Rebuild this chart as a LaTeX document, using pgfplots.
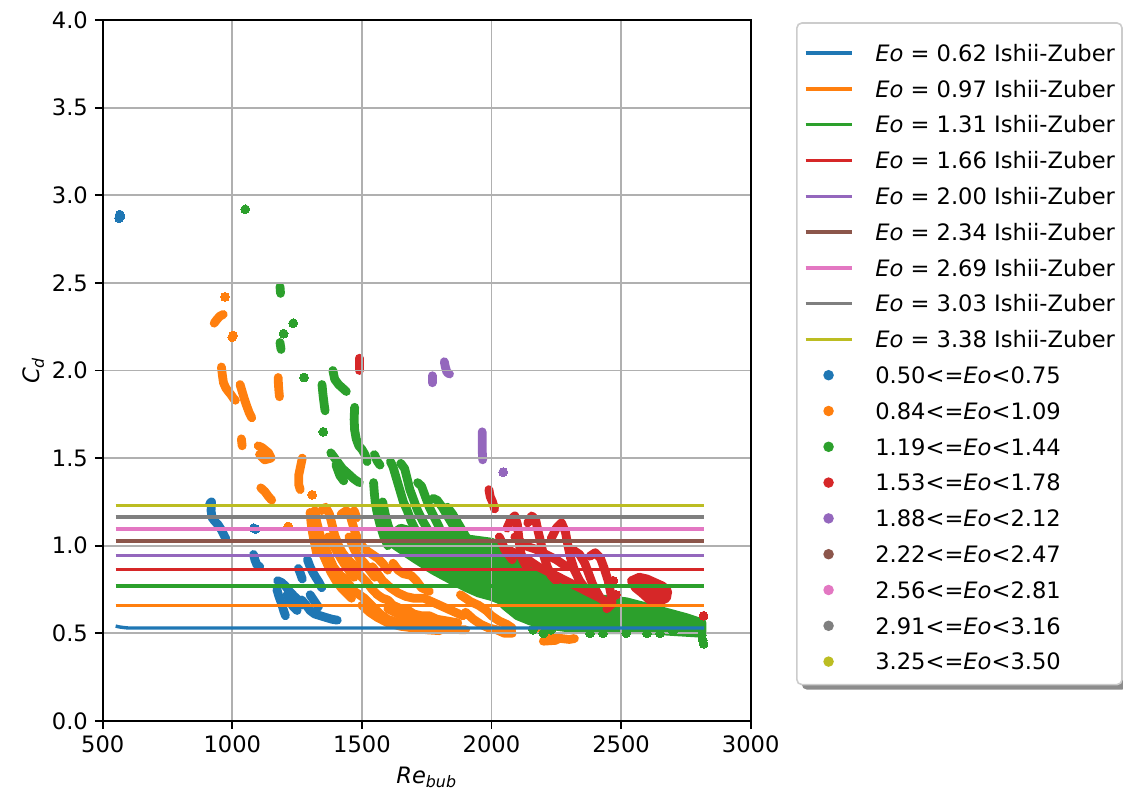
\documentclass[border=0pt]{standalone}
\usepackage{fontspec}
\setmainfont{DejaVu Sans}
\usepackage{pgfplots}
\pgfplotsset{compat=1.18}
\usetikzlibrary{shadows}
\definecolor{c0}{HTML}{1F77B4}
\definecolor{c1}{HTML}{FF7F0E}
\definecolor{c2}{HTML}{2CA02C}
\definecolor{c3}{HTML}{D62728}
\definecolor{c4}{HTML}{9467BD}
\definecolor{c5}{HTML}{8C564B}
\definecolor{c6}{HTML}{E377C2}
\definecolor{c7}{HTML}{7F7F7F}
\definecolor{c8}{HTML}{BCBD22}
\newcommand\fsz{\fontsize{11.3}{13.5}\selectfont}
\makeatletter
\tikzset{no shadow/.code={\let\tikz@preactions\pgfutil@empty}}
\makeatother
\pgfplotsset{
 ishii/.style={legend image code/.code={\draw[no shadow, line width=1.7pt,#1] (0pt,-1.75pt) -- (23pt,-1.75pt);}},
 scat/.style={legend image code/.code={\fill[no shadow, #1] (0pt,-1.75pt) (23pt,-1.75pt) (11.5pt,-1.75pt) circle (2.2pt);}},
 pts/.style={only marks, mark=*, mark size=2.2pt, color=#1, mark options={draw=#1, fill=#1, line width=0pt}, forget plot},
 streak/.style={draw=#1, line width=4.4pt, line cap=round, line join=round, mark=none, forget plot},
 blob/.style={draw=#1, fill=#1, line width=4.4pt, line cap=round, line join=round, mark=none, forget plot},
 iz/.style={draw=#1, line width=1.7pt, mark=none, forget plot},
 frame/.style={scale only axis, width=324pt, height=350.4pt,
   at={(51.35pt,37.05pt)}, anchor=south west,
   xmin=500, xmax=3000, ymin=0, ymax=4},
}
\begin{document}
\begin{tikzpicture}
\path (0pt,0pt) rectangle (561.5pt,397.5pt);
\begin{axis}[
 frame, axis on top,
 xtick={500,1000,...,3000}, ytick={0,0.5,...,4},
 yticklabel style={/pgf/number format/.cd, fixed, fixed zerofill, precision=1},
 xticklabel style={/pgf/number format/.cd, fixed, 1000 sep={}},
 /pgf/number format/assume math mode=true,
 ticklabel style={font=\fsz},
 label style={font=\fsz},
 ylabel style={yshift=-3pt},
 grid=major, grid style={color=black!31, line width=0.9pt},
 axis line style={line width=0.9pt},
 tick style={line width=0.9pt, color=black},
 major tick length=3.9pt, tick align=outside,
 xtick pos=bottom, ytick pos=left,
 xlabel={\textit{Re}\textsubscript{\textit{bub}}},
 ylabel={\textit{C}\textsubscript{\textit{d}}},
 legend cell align=left,
 legend style={at={(1.070,0.997)}, anchor=north west, draw=black!20, line width=0.8pt,
   rounded corners=2.5pt, fill=white, inner xsep=3.5pt, inner ysep=5.4pt, row sep=2.2pt,
   font=\fsz, nodes={inner xsep=0pt, inner ysep=2pt, text height=11.7pt, text depth=0pt, anchor=west},
   /tikz/every odd column/.append style={column sep=11pt},
   drop shadow={shadow xshift=2.5pt, shadow yshift=-2.5pt, fill=black!45, opacity=1}},
]
\addlegendimage{ishii=c0}\addlegendentry{\textit{Eo} = 0.62 Ishii-Zuber}
\addlegendimage{ishii=c1}\addlegendentry{\textit{Eo} = 0.97 Ishii-Zuber}
\addlegendimage{ishii=c2}\addlegendentry{\textit{Eo} = 1.31 Ishii-Zuber}
\addlegendimage{ishii=c3}\addlegendentry{\textit{Eo} = 1.66 Ishii-Zuber}
\addlegendimage{ishii=c4}\addlegendentry{\textit{Eo} = 2.00 Ishii-Zuber}
\addlegendimage{ishii=c5}\addlegendentry{\textit{Eo} = 2.34 Ishii-Zuber}
\addlegendimage{ishii=c6}\addlegendentry{\textit{Eo} = 2.69 Ishii-Zuber}
\addlegendimage{ishii=c7}\addlegendentry{\textit{Eo} = 3.03 Ishii-Zuber}
\addlegendimage{ishii=c8}\addlegendentry{\textit{Eo} = 3.38 Ishii-Zuber}
\addlegendimage{scat=c0}\addlegendentry{0.50<=\textit{Eo}<0.75}
\addlegendimage{scat=c1}\addlegendentry{0.84<=\textit{Eo}<1.09}
\addlegendimage{scat=c2}\addlegendentry{1.19<=\textit{Eo}<1.44}
\addlegendimage{scat=c3}\addlegendentry{1.53<=\textit{Eo}<1.78}
\addlegendimage{scat=c4}\addlegendentry{1.88<=\textit{Eo}<2.12}
\addlegendimage{scat=c5}\addlegendentry{2.22<=\textit{Eo}<2.47}
\addlegendimage{scat=c6}\addlegendentry{2.56<=\textit{Eo}<2.81}
\addlegendimage{scat=c7}\addlegendentry{2.91<=\textit{Eo}<3.16}
\addlegendimage{scat=c8}\addlegendentry{3.25<=\textit{Eo}<3.50}

% ---------------- blue 0.50<=Eo<0.75
\addplot[pts=c0] coordinates {(563,2.870)(566,2.890)(568,2.878)(1083,1.100)(1090,1.095)};
\addplot[streak=c0] coordinates {(913,1.24)(920,1.25)(918,1.20)(922,1.16)(932,1.14)(945,1.12)(958,1.09)(968,1.06)(975,1.04)};
\addplot[streak=c0] coordinates {(1082,0.95)(1087,0.92)(1095,0.89)(1106,0.88)};
\addplot[streak=c0] coordinates {(1175,0.80)(1190,0.79)(1205,0.77)(1220,0.74)(1240,0.71)(1255,0.69)(1265,0.66)};
\addplot[streak=c0] coordinates {(1172,0.75)(1180,0.71)(1190,0.67)(1198,0.63)(1205,0.60)};
\addplot[streak=c0] coordinates {(1212,0.72)(1222,0.68)(1236,0.65)(1250,0.63)};
\addplot[streak=c0] coordinates {(1255,0.87)(1263,0.84)(1270,0.81)};
\addplot[streak=c0] coordinates {(1290,0.92)(1300,0.88)(1310,0.85)(1322,0.82)(1335,0.79)(1345,0.76)};
\addplot[streak=c0] coordinates {(1268,0.69)(1285,0.66)(1300,0.63)(1318,0.61)(1340,0.60)(1362,0.59)(1385,0.58)(1405,0.575)};
\addplot[streak=c0] coordinates {(1300,0.72)(1318,0.68)(1332,0.65)};

% ---------------- orange 0.84<=Eo<1.09
\addplot[pts=c1] coordinates {(972,2.42)(1003,2.20)(1000,2.19)(1308,1.29)(1216,1.11)};
\addplot[streak=c1] coordinates {(930,2.27)(940,2.29)(952,2.31)(965,2.32)};
\addplot[streak=c1] coordinates {(958,2.02)(962,1.97)(966,1.93)(975,1.90)(985,1.88)(996,1.86)(1005,1.84)(1012,1.83)};
\addplot[streak=c1] coordinates {(1030,1.92)(1038,1.88)(1046,1.84)(1055,1.80)(1065,1.76)(1075,1.73)};
\addplot[streak=c1] coordinates {(1035,1.61)(1038,1.57)};
\addplot[streak=c1] coordinates {(1100,1.57)(1115,1.56)(1140,1.53)(1150,1.50)(1125,1.49)(1105,1.52)};
\addplot[streak=c1] coordinates {(1177,1.96)(1178,1.92)(1180,1.88)(1182,1.85)};
\addplot[streak=c1] coordinates {(1270,1.50)(1263,1.45)(1256,1.40)(1256,1.35)(1262,1.32)};
\addplot[streak=c1] coordinates {(1110,1.33)(1125,1.31)(1140,1.28)(1152,1.26)};
\addplot[streak=c1] coordinates {(1300,1.19)(1304,1.13)(1310,1.07)(1318,1.01)(1325,0.96)};
\addplot[streak=c1] coordinates {(1318,1.20)(1325,1.14)(1335,1.08)(1345,1.03)(1360,0.98)(1375,0.93)(1390,0.88)(1405,0.85)(1425,0.82)};
\addplot[streak=c1] coordinates {(1345,1.20)(1360,1.22)(1375,1.18)(1385,1.12)(1395,1.06)(1410,1.00)(1425,0.96)(1440,0.93)(1460,0.90)(1480,0.88)(1500,0.90)};
\addplot[streak=c1] coordinates {(1420,1.18)(1440,1.20)(1455,1.17)(1465,1.12)(1475,1.07)(1490,1.02)(1505,0.99)(1520,0.97)(1540,0.95)(1560,0.93)(1580,0.90)(1600,0.86)};
\addplot[streak=c1] coordinates {(1470,1.20)(1480,1.16)};
\addplot[streak=c1] coordinates {(1335,1.00)(1350,0.95)(1365,0.90)(1380,0.85)(1400,0.80)(1420,0.76)(1440,0.73)(1460,0.70)};
\addplot[streak=c1] coordinates {(1370,1.05)(1390,1.00)(1410,0.95)(1430,0.90)(1450,0.86)(1470,0.82)};
\addplot[streak=c1] coordinates {(1450,1.05)(1470,0.98)(1490,0.93)(1510,0.90)(1530,0.86)(1550,0.82)};
\addplot[streak=c1] coordinates {(1430,0.82)(1450,0.78)(1470,0.74)(1490,0.72)(1510,0.70)(1530,0.67)(1550,0.64)(1570,0.61)(1600,0.58)(1640,0.56)(1680,0.55)(1720,0.54)(1760,0.54)(1800,0.53)(1840,0.53)(1880,0.52)(1900,0.52)};
\addplot[streak=c1] coordinates {(1500,0.66)(1530,0.62)(1560,0.59)(1600,0.56)(1650,0.54)(1700,0.53)(1750,0.52)(1800,0.515)};
\addplot[streak=c1] coordinates {(1480,0.85)(1500,0.82)(1520,0.79)(1540,0.75)(1560,0.72)(1580,0.70)(1600,0.69)(1620,0.66)(1650,0.64)(1680,0.63)(1700,0.61)(1730,0.60)(1760,0.60)(1790,0.58)(1830,0.57)(1870,0.56)};
\addplot[streak=c1] coordinates {(1600,0.64)(1640,0.61)(1680,0.59)(1720,0.58)(1760,0.57)(1800,0.56)(1850,0.55)};
\addplot[streak=c1] coordinates {(1540,0.88)(1560,0.84)(1580,0.80)(1610,0.76)(1640,0.73)(1670,0.71)(1700,0.70)(1740,0.70)(1770,0.68)(1800,0.66)(1830,0.64)(1860,0.62)(1890,0.60)};
\addplot[streak=c1] coordinates {(1620,0.90)(1640,0.86)(1660,0.84)(1690,0.83)(1710,0.80)(1730,0.76)(1760,0.74)};
\addplot[streak=c1] coordinates {(1880,0.72)(1900,0.70)(1920,0.68)(1950,0.66)(1980,0.63)(2000,0.60)(2030,0.57)(2060,0.55)(2080,0.53)};
\addplot[streak=c1] coordinates {(1900,0.62)(1930,0.58)(1960,0.55)(1990,0.53)(2020,0.52)(2050,0.50)(2080,0.50)};
\addplot[streak=c1] coordinates {(2190,0.52)(2210,0.50)(2240,0.48)(2270,0.47)(2300,0.465)(2320,0.47)};
\addplot[streak=c1] coordinates {(2200,0.455)(2250,0.46)};

% ---------------- green 1.19<=Eo<1.44
\addplot[pts=c2] coordinates {(1050,2.92)(1235,2.27)(1198,2.21)(1277,1.96)(1351,1.65)(2160,0.52)(2200,0.50)(2230,0.52)(2380,0.50)(2430,0.50)(2520,0.50)(2600,0.50)(2650,0.50)(2700,0.51)(2815,0.46)(2818,0.44)(2812,0.49)};
\addplot[streak=c2] coordinates {(1184,2.48)(1186,2.44)};
\addplot[streak=c2] coordinates {(1184,2.16)(1188,2.12)};
\addplot[streak=c2] coordinates {(1346,1.92)(1350,1.86)(1355,1.80)(1358,1.77)};
\addplot[streak=c2] coordinates {(1388,2.00)(1395,1.95)(1410,1.92)(1425,1.90)(1440,1.88)};
\addplot[streak=c2] coordinates {(1472,1.79)(1470,1.72)(1472,1.66)(1478,1.61)(1488,1.57)(1500,1.55)(1512,1.52)(1520,1.48)};
\addplot[streak=c2] coordinates {(1380,1.53)(1395,1.50)(1410,1.47)(1425,1.44)(1440,1.42)(1455,1.40)(1470,1.38)(1490,1.36)};
\addplot[streak=c2] coordinates {(1400,1.46)(1415,1.40)(1430,1.37)};
\addplot[streak=c2] coordinates {(1548,1.52)(1560,1.48)(1570,1.46)};
\addplot[streak=c2] coordinates {(1545,1.36)(1548,1.30)(1552,1.24)(1560,1.18)(1570,1.12)(1585,1.05)(1600,1.00)};
\addplot[streak=c2] coordinates {(1580,1.25)(1590,1.18)(1600,1.12)(1615,1.06)};
\addplot[streak=c2] coordinates {(1610,1.48)(1620,1.45)(1630,1.40)(1640,1.35)(1650,1.30)(1660,1.25)(1675,1.20)(1690,1.14)(1710,1.08)(1730,1.03)};
\addplot[streak=c2] coordinates {(1650,1.47)(1665,1.44)(1675,1.38)(1685,1.32)(1700,1.26)(1715,1.20)(1735,1.14)(1755,1.09)};
\addplot[streak=c2] coordinates {(1715,1.36)(1730,1.34)(1745,1.28)(1760,1.22)(1780,1.16)(1800,1.10)};
\addplot[streak=c2] coordinates {(1775,1.27)(1790,1.26)(1810,1.22)(1830,1.17)(1850,1.12)(1870,1.07)};
\addplot[streak=c2] coordinates {(1830,1.22)(1850,1.18)(1870,1.13)(1890,1.08)(1910,1.03)};
\addplot[blob=c2] coordinates {(1600,1.05)(1650,1.10)(1700,1.08)(1750,1.08)(1800,1.08)(1850,1.06)(1900,1.04)(1950,1.03)(2000,1.02)(2050,0.98)(2100,0.93)(2150,0.88)(2200,0.84)(2270,0.80)(2330,0.75)(2400,0.70)(2520,0.68)(2650,0.63)(2750,0.59)(2812,0.56)
 (2812,0.50)(2700,0.51)(2600,0.52)(2500,0.52)(2400,0.52)(2300,0.53)(2200,0.55)(2150,0.57)(2100,0.60)(2050,0.66)(2034,0.69)(2000,0.71)(1950,0.73)(1904,0.76)(1850,0.80)(1775,0.86)(1700,0.93)(1650,0.98)(1610,1.02)(1600,1.05)};

% ---------------- red 1.53<=Eo<1.78
\addplot[pts=c3] coordinates {(2818,0.60)(2470,0.80)(2480,0.72)};
\addplot[streak=c3] coordinates {(1490,2.07)(1490,2.00)};
\addplot[streak=c3] coordinates {(1990,1.32)(1995,1.28)(2004,1.25)(2012,1.21)};
\addplot[streak=c3] coordinates {(2030,1.05)(2040,1.02)(2050,0.98)(2065,0.95)(2080,0.92)};
\addplot[streak=c3] coordinates {(2060,1.10)(2075,1.15)(2090,1.17)(2100,1.12)(2105,1.05)(2110,0.98)(2120,0.92)(2135,0.88)};
\addplot[streak=c3] coordinates {(2140,1.13)(2155,1.17)(2170,1.15)(2180,1.08)(2190,1.02)(2200,0.95)(2215,0.88)(2230,0.83)(2250,0.80)};
\addplot[streak=c3] coordinates {(2230,1.04)(2250,1.10)(2270,1.13)(2285,1.08)(2295,1.00)(2305,0.93)(2320,0.86)(2340,0.80)(2360,0.76)};
\addplot[streak=c3] coordinates {(2300,0.98)(2320,0.97)(2340,0.95)(2360,0.90)(2375,0.84)(2390,0.78)(2405,0.74)(2420,0.70)};
\addplot[streak=c3] coordinates {(2380,0.94)(2400,0.96)(2420,0.93)(2435,0.87)(2450,0.80)(2460,0.73)(2465,0.67)(2445,0.64)};
\addplot[streak=c3] coordinates {(2060,0.98)(2100,0.95)(2140,0.92)(2180,0.88)(2220,0.85)(2260,0.82)(2300,0.79)(2340,0.76)(2380,0.73)(2420,0.70)(2460,0.66)};
\addplot[streak=c3] coordinates {(2090,1.05)(2130,1.00)(2170,0.98)(2210,0.95)(2250,0.92)(2290,0.88)};
\addplot[blob=c3] coordinates {(2540,0.80)(2570,0.82)(2600,0.81)(2630,0.79)(2660,0.77)(2680,0.74)(2675,0.70)(2645,0.68)(2610,0.69)(2580,0.73)(2555,0.76)(2540,0.80)};

% ---------------- purple 1.88<=Eo<2.12
\addplot[pts=c4] coordinates {(2045,1.42)};
\addplot[streak=c4] coordinates {(1771,1.97)(1771,1.93)};
\addplot[streak=c4] coordinates {(1818,2.05)(1822,2.02)(1828,1.99)(1838,1.98)};
\addplot[streak=c4] coordinates {(1964,1.65)(1964,1.55)(1966,1.49)};
\end{axis}
\begin{axis}[frame, hide axis]
% ---------------- Ishii-Zuber lines (drawn above grid)
\addplot[iz=c0] coordinates {(550,0.541)(565,0.536)(580,0.533)(600,0.530)(2820,0.530)};
\addplot[iz=c1] coordinates {(550,0.658)(2820,0.658)};
\addplot[iz=c2] coordinates {(550,0.770)(2820,0.770)};
\addplot[iz=c3] coordinates {(550,0.865)(2820,0.865)};
\addplot[iz=c4] coordinates {(550,0.944)(2820,0.944)};
\addplot[iz=c5] coordinates {(550,1.027)(2820,1.027)};
\addplot[iz=c6] coordinates {(550,1.095)(2820,1.095)};
\addplot[iz=c7] coordinates {(550,1.163)(2820,1.163)};
\addplot[iz=c8] coordinates {(550,1.230)(2820,1.230)};
\end{axis}
\end{tikzpicture}
\end{document}
